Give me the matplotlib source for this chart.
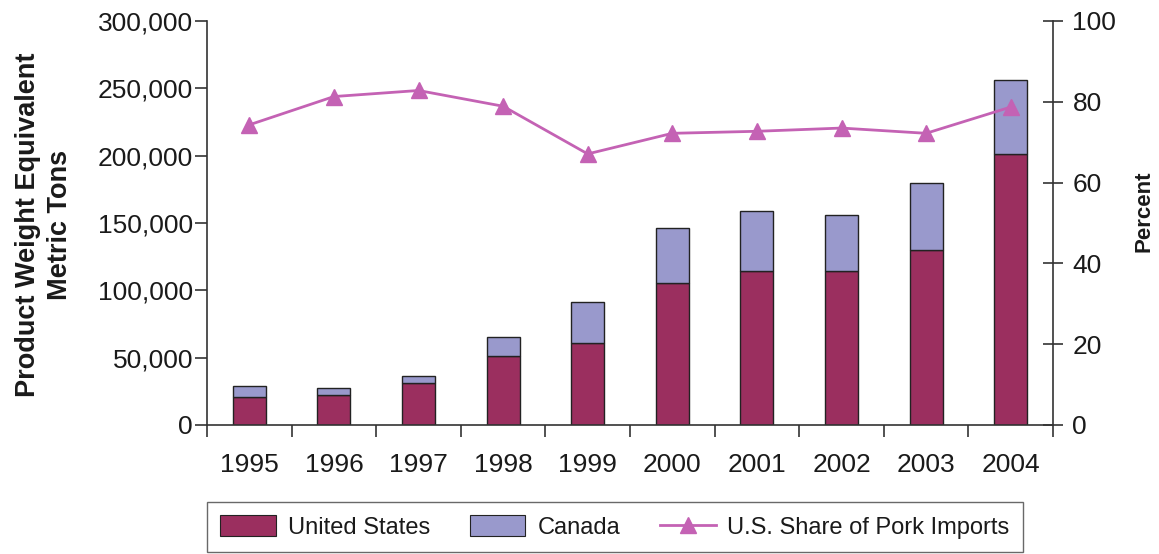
import matplotlib
matplotlib.use("Agg")
import matplotlib.pyplot as plt
from matplotlib.ticker import FuncFormatter, FixedLocator
from matplotlib.lines import Line2D
from matplotlib.patches import Patch

plt.rcParams['font.family'] = ['Liberation Sans', 'DejaVu Sans']

years = ['1995', '1996', '1997', '1998', '1999', '2000', '2001', '2002', '2003', '2004']
us_tons = [21000, 22500, 31000, 51500, 61000, 105500, 114500, 114500, 130000, 201000]
canada_tons = [8000, 5000, 5500, 14000, 30500, 41000, 44500, 41500, 50000, 55000]
us_share_pct = [74.3, 81.3, 82.8, 78.9, 67.1, 72.2, 72.7, 73.5, 72.2, 78.7]

us_color = '#9B2F5F'
ca_color = '#9999CC'
line_color = '#C462B4'
spine_color = '#333333'
text_color = '#1a1a1a'

fig = plt.figure(figsize=(11.59, 5.54), dpi=100)
ax = fig.add_axes([207/1159, 1-425/554, 846/1159, 404/554])
ax2 = ax.twinx()

x = list(range(len(years)))
w = 0.39
ax.bar(x, us_tons, width=w, color=us_color, edgecolor='#222222', linewidth=1.0, zorder=2)
ax.bar(x, canada_tons, width=w, bottom=us_tons, color=ca_color, edgecolor='#222222',
       linewidth=1.0, zorder=2)

ax2.plot(x, us_share_pct, color=line_color, linewidth=2.0, marker='^', markersize=12,
         markeredgecolor=line_color, zorder=3)

ax.set_xlim(-0.5, len(years) - 0.5)
ax.set_ylim(0, 300000)
ax2.set_ylim(0, 100)

ax.set_yticks(range(0, 300001, 50000))
ax.yaxis.set_major_formatter(FuncFormatter(lambda v, p: f'{int(v):,}'))
ax2.set_yticks(range(0, 101, 20))

ax.set_xticks(x)
ax.set_xticklabels(years)
ax.xaxis.set_minor_locator(FixedLocator([i - 0.5 for i in range(len(years) + 1)]))

for a in (ax, ax2):
    a.spines['top'].set_visible(False)
    for s in a.spines.values():
        s.set_color(spine_color)
        s.set_linewidth(1.2)
ax.spines['right'].set_visible(False)
ax2.spines['left'].set_visible(False)
ax2.spines['bottom'].set_visible(False)

ax.tick_params(axis='x', which='major', length=0, pad=20, labelsize=19, labelcolor=text_color)
ax.tick_params(axis='x', which='minor', length=8.5, width=1.2, color=spine_color, direction='out')
ax.tick_params(axis='y', length=9, width=1.2, color=spine_color, direction='out', pad=1,
               labelsize=19, labelcolor=text_color)
ax2.tick_params(axis='y', length=14, width=1.2, color=spine_color, direction='inout', pad=7,
                labelsize=19, labelcolor=text_color)

ax.set_ylabel('Product Weight Equivalent\nMetric Tons', fontsize=19.5, fontweight='bold',
              color=text_color, linespacing=1.3)
ax.yaxis.label.set_va('center')
ax.yaxis.set_label_coords(-0.193, 0.496)
ax2.set_ylabel('Percent', fontsize=16, fontweight='bold', color=text_color)
ax2.yaxis.label.set_va('center')
ax2.yaxis.set_label_coords(1.1076, 0.53)

ax.set_zorder(1)
ax2.set_zorder(2)
ax.patch.set_visible(False)
ax2.patch.set_visible(False)

handles = [
    Patch(facecolor=us_color, edgecolor='#222222', linewidth=0.8),
    Patch(facecolor=ca_color, edgecolor='#222222', linewidth=0.8),
    Line2D([0], [0], color=line_color, linewidth=2.0, marker='^', markersize=12,
           markeredgecolor=line_color),
]
labels = ['United States', 'Canada', 'U.S. Share of Pork Imports']
leg = fig.legend(handles, labels, loc='center', bbox_to_anchor=(615/1159, 1-527/554),
                 ncol=3, fontsize=17, frameon=True, fancybox=False, handlelength=2.35,
                 handleheight=1.0, handletextpad=0.5, columnspacing=1.7, borderpad=0.55,
                 labelcolor=text_color)
leg.get_frame().set_edgecolor('#444444')
leg.get_frame().set_linewidth(1.0)

fig.savefig('out.png', dpi=100)
